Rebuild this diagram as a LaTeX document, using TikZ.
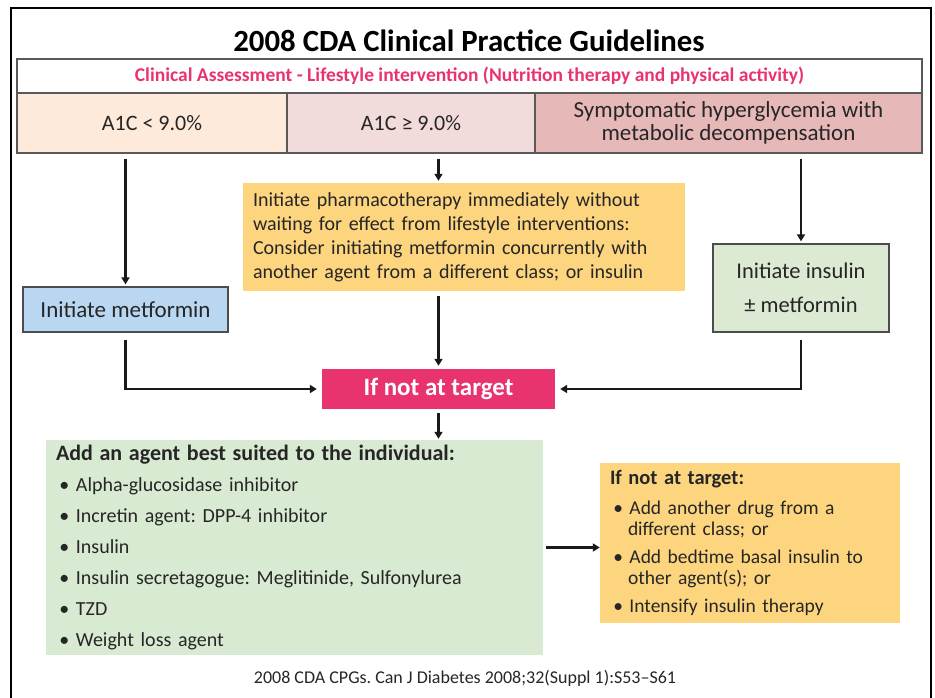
\documentclass[tikz,border=0pt]{standalone}
\usepackage{fontspec}
\setmainfont{Carlito}
\usetikzlibrary{arrows.meta}
\definecolor{cdapink}{HTML}{E8336F}
\definecolor{cellA}{HTML}{FDEADA}
\definecolor{cellB}{HTML}{F2DCDB}
\definecolor{cellC}{HTML}{E6B9B8}
\definecolor{metblue}{HTML}{B9D7F1}
\definecolor{orangebox}{HTML}{FDD57E}
\definecolor{insgreen}{HTML}{DCEAD3}
\definecolor{agentgreen}{HTML}{D9EAD2}
\definecolor{edgegray}{HTML}{595959}
\newcommand{\fsz}[2]{\fontsize{#1}{#2}\selectfont}
\frenchspacing
\begin{document}
\begin{tikzpicture}[x=1pt,y=-1pt,
        cell/.style={draw=edgegray,line width=1.5pt,minimum width=#1,minimum height=60pt,
            inner sep=0pt,align=center,text=black!85,font=\fsz{22}{23}},
        boxed/.style={draw=black!70,line width=1.3pt,inner sep=0pt,align=center,text=black!85},
        plain/.style={inner sep=0pt,align=left,text=black!85},
        arr/.style={-{Triangle[length=7pt,width=8pt]},line width=2.4pt,black!90}]
    \useasboundingbox (0,0) rectangle (935,698);
    \clip (0,0) rectangle (935,698);
    % frame and title
    \draw[line width=1.6pt] (11,720) -- (11,8) -- (931,8) -- (931,720);
    \node[font=\fsz{30.8}{34}\bfseries] (title) at (469,41) {2008 CDA Clinical Practice Guidelines};
    % table
    \node[cell=905pt,minimum height=34pt,text=cdapink,font=\fsz{19.5}{22}\bfseries] (assess) at (469.5,76)
        {Clinical Assessment - Lifestyle intervention (Nutrition therapy and physical activity)};
    \node[cell=270pt,fill=cellA] (lt9) at (152,123) {A1C < 9.0\%};
    \node[cell=248pt,fill=cellB] (ge9) at (411,123) {A1C ≥ 9.0\%};
    \node[cell=387pt,fill=cellC,font=\fsz{23}{23}] (symp) at (728.5,123) {Symptomatic hyperglycemia with\\metabolic decompensation};
    % second level
    \node[boxed,fill=metblue,minimum width=205pt,minimum height=45pt,font=\fsz{23}{26}] (met) at (125.5,309.5) {Initiate metformin};
    \node[plain,fill=orangebox,minimum height=108pt,text width=422pt,inner xsep=10pt,font=\fsz{20}{24}] (pharm) at (464,237)
        {Initiate pharmacotherapy immediately without\\
         waiting for effect from lifestyle interventions:\\
         Consider initiating metformin concurrently with\\
         another agent from a different class; or insulin};
    \node[boxed,fill=insgreen,minimum width=176pt,minimum height=88pt,font=\fsz{22.5}{34}] (ins) at (801,288)
        {Initiate insulin\\± metformin};
    \node[fill=cdapink,text=white,minimum width=233pt,minimum height=40pt,inner sep=0pt,font=\fsz{25}{28}\bfseries] (tgt) at (438.5,389)
        {If not at target};
    % third level
    \node[plain,fill=agentgreen,minimum height=215pt,text width=477pt,inner xsep=10pt,font=\fsz{20}{31}] (agents) at (294.5,547.5)
        {{\fsz{22}{31}\bfseries Add an agent best suited to the individual:}\\
         \,\textbullet\ Alpha-glucosidase inhibitor\\
         \,\textbullet\ Incretin agent: DPP-4 inhibitor\\
         \,\textbullet\ Insulin\\
         \,\textbullet\ Insulin secretagogue: Meglitinide, Sulfonylurea\\
         \,\textbullet\ TZD\\
         \,\textbullet\ Weight loss agent};
    \node[plain,fill=orangebox,minimum height=160pt,text width=280pt,inner xsep=10pt,font=\fsz{19.5}{21}] (more) at (750,543)
        {{\fsz{20.5}{21}\bfseries If not at target:}\\[9pt]
         \,\textbullet\ Add another drug from a\\
         \hspace*{18pt}different class; or\\[7pt]
         \,\textbullet\ Add bedtime basal insulin to\\
         \hspace*{18pt}other agent(s); or\\[7pt]
         \,\textbullet\ Intensify insulin therapy};
    \node[font=\fsz{18}{20},text=black!85] (ref) at (465,678) {2008 CDA CPGs. Can J Diabetes 2008;32(Suppl 1):S53–S61};
    % connectors
    \draw[arr,shorten <=5pt,shorten >=2pt] (lt9.south -| met.north) -- (met.north);
    \draw[arr,shorten <=5pt,shorten >=2pt] (ge9.south -| tgt.north) -- (pharm.north -| tgt.north);
    \draw[arr,shorten <=5pt,shorten >=2pt] (symp.south -| ins.north) -- (ins.north);
    \draw[arr,shorten <=5pt,shorten >=3pt] (pharm.south -| tgt.north) -- (tgt.north);
    \draw[arr,shorten <=7pt,shorten >=5pt] (met.south) |- (tgt.west);
    \draw[arr,shorten <=7pt,shorten >=5pt] (ins.south) |- (tgt.east);
    \draw[arr,shorten <=4pt,shorten >=1pt] (tgt.south) -- (tgt.south |- agents.north);
    \draw[arr,shorten <=3pt] (agents.east) -- (agents.east -| more.west);
\end{tikzpicture}
\end{document}
